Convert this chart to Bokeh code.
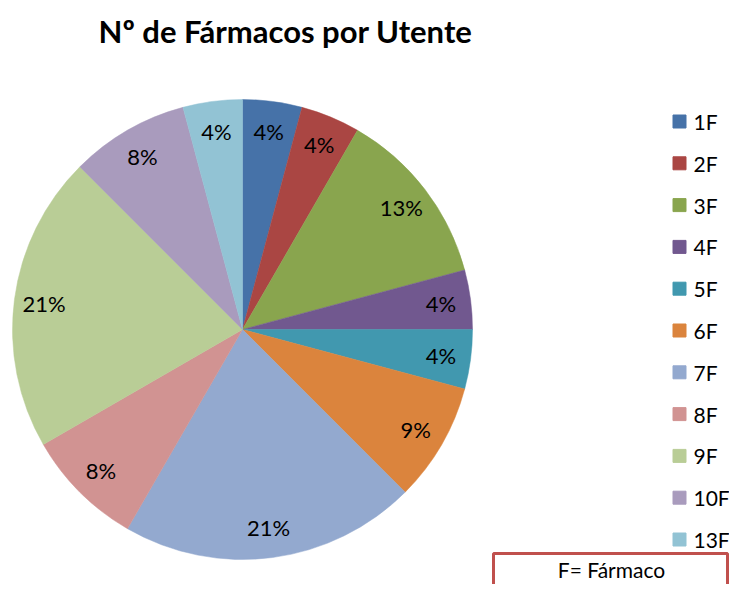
import math
from bokeh.plotting import figure
from bokeh.models import ColumnDataSource, Range1d
from bokeh.core.properties import value
from bokeh.embed import file_html
from bokeh.resources import INLINE

# ---- data ----
categories = ["1F", "2F", "3F", "4F", "5F", "6F", "7F", "8F", "9F", "10F", "13F"]
counts = [1, 1, 3, 1, 1, 2, 5, 2, 5, 2, 1]
pct_labels = ["4%", "4%", "13%", "4%", "4%", "9%", "21%", "8%", "21%", "8%", "4%"]
colors = ["#4672A8", "#AA4643", "#89A54E", "#71588F", "#4198AF", "#DB843D",
          "#93A9CF", "#D19392", "#B9CD96", "#A99BBD", "#92C3D4"]
title_text = "Nº de Fármacos por Utente"
note_text = "F= Fármaco"

W, H = 729, 584
FONT = "Lato"

p = figure(width=W, height=H, output_backend="svg", toolbar_location=None,
           x_range=Range1d(0, W), y_range=Range1d(0, H), min_border=0)
p.axis.visible = False
p.grid.visible = False
p.outline_line_color = None
p.background_fill_color = "white"

# pie geometry (1 data unit = 1 px)
cx, cy, R = 242, 255, 230
total = float(sum(counts))
starts, ends, lx, ly = [], [], [], []
cum = 0.0
for c in counts:
    a0 = math.pi / 2 - 2 * math.pi * cum / total
    cum += c
    a1 = math.pi / 2 - 2 * math.pi * cum / total
    starts.append(a1)
    ends.append(a0)
    mid = (a0 + a1) / 2
    lx.append(cx + 0.87 * R * math.cos(mid))
    ly.append(cy + 0.87 * R * math.sin(mid))

src = ColumnDataSource(dict(start=starts, end=ends, color=colors, lab=pct_labels, lx=lx, ly=ly))
p.wedge(x=cx, y=cy, radius=R, radius_units="screen", start_angle="start", end_angle="end",
        fill_color="color", line_color="color", line_width=0.5, source=src)
p.text(x="lx", y="ly", text="lab", source=src, text_align="center", text_baseline="middle",
       text_font=value(FONT), text_font_size="22px", text_color="#000000")

# title
p.text(x=[285], y=[554], text=[title_text], text_align="center", text_baseline="middle",
       text_font=value(FONT), text_font_size="31px", text_font_style="bold", text_color="#000000")

# legend
n = len(categories)
leg_y = [H - (121 + i * 41.8) for i in range(n)]
leg_src = ColumnDataSource(dict(x=[679] * n, tx=[693] * n, y=leg_y, color=colors, lab=categories))
p.scatter(x="x", y="y", marker="square", size=13, fill_color="color", line_color="color", source=leg_src)
p.text(x="tx", y="y", text="lab", source=leg_src, text_align="left", text_baseline="middle",
       text_font=value(FONT), text_font_size="21px", text_color="#000000")

# note box
p.quad(left=[493], right=[727], top=[31], bottom=[-20], fill_color="white",
       line_color="#C0504D", line_width=3)
p.text(x=[611], y=[15], text=[note_text], text_align="center", text_baseline="middle",
       text_font=value(FONT), text_font_size="21px", text_color="#000000")

open("out.html", "w").write(file_html(p, INLINE))
